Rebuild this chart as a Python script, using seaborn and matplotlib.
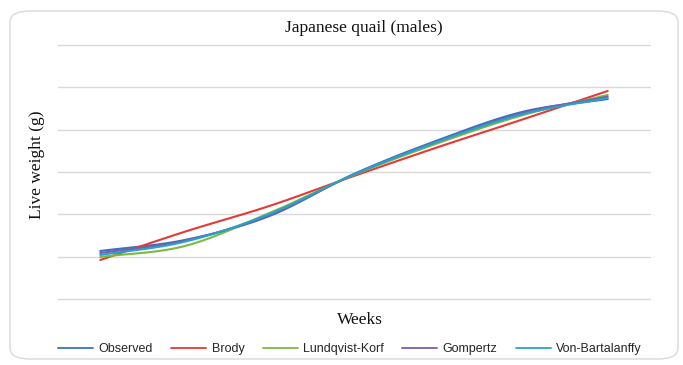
import numpy as np
import pandas as pd
import seaborn as sns
import matplotlib.pyplot as plt
from matplotlib.patches import FancyBboxPatch

# Live weight by week: observed values and fitted growth models
weeks = [1, 2, 3, 4, 5, 6, 7]
observed = [56.7, 69.7, 98.0, 147.7, 187.8, 221.2, 236.2]
brody = [46.1, 79.5, 109.9, 145.3, 179.6, 212.3, 245.7]
lundqvist_korf = [49.6, 62.6, 101.6, 146.5, 184.3, 217.3, 241.0]
gompertz = [54.3, 68.9, 99.2, 147.1, 186.6, 219.7, 239.0]
von_bartalanffy = [52.0, 67.7, 100.4, 147.1, 186.1, 218.5, 237.4]

series_names = ["Observed", "Brody", "Lundqvist-Korf", "Gompertz", "Von-Bartalanffy"]
series_values = [observed, brody, lundqvist_korf, gompertz, von_bartalanffy]
colors = ["#3D6FC2", "#E53935", "#7CB944", "#7E5BA8", "#27A3C9"]


def smooth(x, y, n=20):
    """Catmull-Rom smoothing through every point (spreadsheet-style smooth line)."""
    x = np.asarray(x, float)
    y = np.asarray(y, float)
    px = np.concatenate([[2 * x[0] - x[1]], x, [2 * x[-1] - x[-2]]])
    py = np.concatenate([[2 * y[0] - y[1]], y, [2 * y[-1] - y[-2]]])
    xs, ys = [], []
    t = np.linspace(0, 1, n, endpoint=False)
    for i in range(1, len(px) - 2):
        for arr, out in ((px, xs), (py, ys)):
            p0, p1, p2, p3 = arr[i - 1], arr[i], arr[i + 1], arr[i + 2]
            out.extend(0.5 * ((2 * p1) + (-p0 + p2) * t
                              + (2 * p0 - 5 * p1 + 4 * p2 - p3) * t ** 2
                              + (-p0 + 3 * p1 - 3 * p2 + p3) * t ** 3))
    xs.append(x[-1])
    ys.append(y[-1])
    return np.array(xs), np.array(ys)


frames = []
for name, vals in zip(series_names, series_values):
    sx, sy = smooth(weeks, vals)
    frames.append(pd.DataFrame({"week": sx, "weight": sy, "model": name}))
df = pd.concat(frames, ignore_index=True)

sns.set_theme(style="white")
fig = plt.figure(figsize=(6.83, 3.65), dpi=100)

# rounded chart-area frame, kept behind the axes
frame = FancyBboxPatch((10 / 683, 6 / 365), 668 / 683, 348 / 365,
                       boxstyle="round,pad=0,rounding_size=0.03",
                       transform=fig.transFigure, facecolor="white",
                       edgecolor="#D9D9D9", linewidth=1.0, zorder=-10)
fig.patches.append(frame)

ax = fig.add_axes([58 / 683, 1 - 299 / 365, 592 / 683, 254 / 365])
ax.set_zorder(5)
ax.set_facecolor("none")
sns.lineplot(data=df, x="week", y="weight", hue="model", hue_order=series_names,
             palette=colors, sort=False, estimator=None, linewidth=1.5,
             legend=False, ax=ax)

ax.set_xlim(0.5, 7.5)
ax.set_ylim(0, 300)
ax.set_yticks(np.arange(0, 301, 50))
ax.set_xticks([])
ax.tick_params(left=False, bottom=False, labelleft=False, labelbottom=False)
ax.grid(axis="y", color="#D9D9D9", linewidth=1.0)
ax.set_axisbelow(True)
for gl in ax.get_ygridlines():
    gl.set_clip_on(False)
for s in ax.spines.values():
    s.set_visible(False)
ax.set_xlabel("")
ax.set_ylabel("")

serif = ["Liberation Serif", "DejaVu Serif"]
fig.text(364 / 683, 1 - 28 / 365, "Japanese quail (males)", ha="center", va="center",
         fontsize=12.5, family=serif, color="#111111")
fig.text(37 / 683, 1 - 165 / 365, "Live weight (g)", ha="center", va="center",
         rotation=90, fontsize=12.5, family=serif, color="#111111")
fig.text(360 / 683, 1 - 320 / 365, "Weeks", ha="center", va="center",
         fontsize=12.5, family=serif, color="#111111")

handles = [plt.Line2D([], [], color=c, linewidth=1.3) for c in colors]
fig.legend(handles, series_names, loc="center", bbox_to_anchor=(350 / 683, 1 - 349 / 365),
           ncol=5, frameon=False, handlelength=2.8, handletextpad=0.45, columnspacing=1.45,
           prop={"family": "Liberation Sans", "size": 9})

fig.savefig("out.png", dpi=100)
